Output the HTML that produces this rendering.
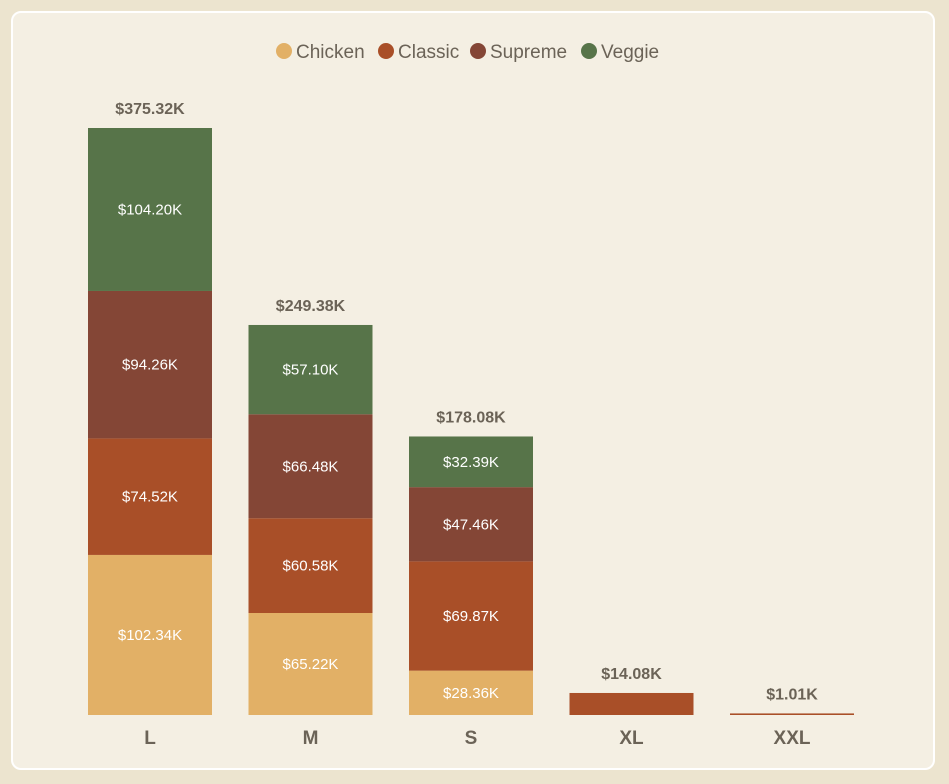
<!DOCTYPE html>
<html><head><meta charset="utf-8"><style>
html,body{margin:0;padding:0;background:#ece4cf;}
body{width:949px;height:784px;position:relative;overflow:hidden;font-family:"Liberation Sans",sans-serif;}
#panel{position:absolute;left:11px;top:11px;width:924px;height:759px;background:#f4efe3;border:2px solid #fff;border-radius:10px;box-sizing:border-box;}
svg{position:absolute;left:0;top:0;}
</style></head><body>
<div id="panel"></div>
<svg id="chart" width="949" height="784"></svg>
<script>
const categories=["L","M","S","XL","XXL"];
const series=["Chicken","Classic","Supreme","Veggie"];
const colors=["#e2b066","#a94f28","#844636","#577449"];
const chicken=[102.34,65.22,28.36,0,0];
const classic=[74.52,60.58,69.87,14.08,1.01];
const supreme=[94.26,66.48,47.46,0,0];
const veggie=[104.20,57.10,32.39,0,0];
const values=[chicken,classic,supreme,veggie];
const svg=document.getElementById('chart');
const NS='http://www.w3.org/2000/svg';
const baseY=715,scale=587/375.32,x0=88,step=160.5,bw=124;
function y(v){return baseY-v*scale;}
function xb(i){return x0+i*step;}
function mk(tag,attrs,text){const e=document.createElementNS(NS,tag);for(const k in attrs)e.setAttribute(k,attrs[k]);if(text!==undefined)e.textContent=text;svg.appendChild(e);return e;}
const lx=[284,386,478,589];
series.forEach((s,i)=>{
 const c=mk('circle',{cx:lx[i],cy:51,r:8,fill:colors[i]});
 
 
 const t=mk('text',{x:lx[i]+12,y:58,'font-size':19,fill:'#6b6357'},s);
 
 
});
categories.forEach((cat,i)=>{
 let cum=0;
 values.forEach((arr,si)=>{
  const v=arr[i]; if(!v)return;
  const top=y(cum+v),h=y(cum)-top;
  const r=mk('rect',{x:xb(i),y:top,width:bw,height:Math.max(h,1.5),fill:colors[si]});
  
  
  if(h>25){
   const t=mk('text',{x:xb(i)+bw/2,y:top+h/2+5,'font-size':15,fill:'#fff','text-anchor':'middle'},'$'+v.toFixed(2)+'K');
   
   
  }
  cum+=v;
 });
 const tt=mk('text',{x:xb(i)+bw/2,y:y(cum)-14,'font-size':16,'font-weight':'bold',fill:'#6b6357','text-anchor':'middle'},'$'+cum.toFixed(2)+'K');
 
 
 const xl=mk('text',{x:xb(i)+bw/2,y:744,'font-size':19,'font-weight':'bold',fill:'#6b6357','text-anchor':'middle'},cat);
 
 
});
</script>
</body></html>
